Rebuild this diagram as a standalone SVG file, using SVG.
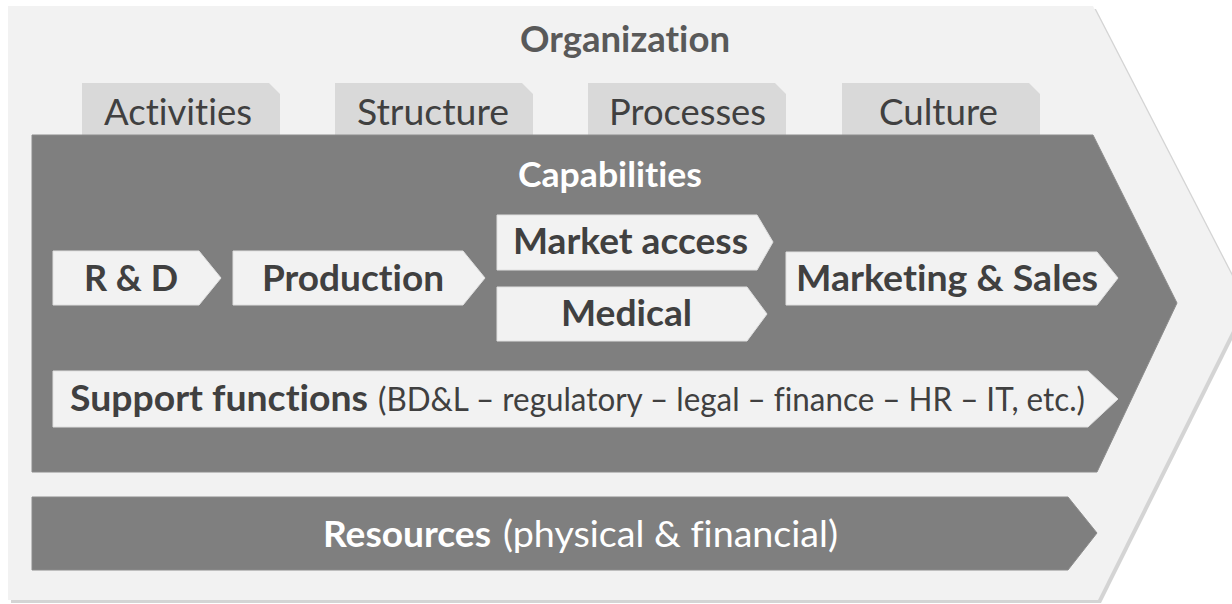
<svg xmlns="http://www.w3.org/2000/svg" width="1232" height="604" viewBox="0 0 1232 604">
<defs>
<style>
.bg{fill:#ffffff}
.outer{fill:#f2f2f2}
.shadow{fill:#d4d4d4}
.tab{fill:#d9d9d9}
.dark{fill:#7f7f7f;stroke:#8c8c8c;stroke-width:1}
.chev{fill:#f2f2f2;stroke:#e0e0e0;stroke-width:1}
text{font-family:Lato,"Open Sans","Liberation Sans",sans-serif;font-variant-ligatures:none;font-feature-settings:"liga" 0}
.b{font-weight:bold}
.dk{fill:#404040}
.org{fill:#595959}
.wh{fill:#ffffff}
.t36{font-size:36px}
.t34{font-size:34px}
.t32{font-size:32px}
</style>
</defs>
<rect class="bg" x="0" y="0" width="1232" height="604"/>

<g id="organization">
<path class="shadow" d="M11,9 H1096 L1249,306 L1101,603 H11 Z"/>
<path class="outer" d="M8,6 H1093 L1246,303 L1098,600 H8 Z"/>
<text class="b org t36" x="520" y="52" textLength="210" lengthAdjust="spacingAndGlyphs">Organization</text>
</g>

<g id="tab-activities">
<path class="tab" d="M82,83 H269 L280,94 V140 H82 Z"/>
<text class="dk t36" x="104" y="125" textLength="148" lengthAdjust="spacingAndGlyphs">Activities</text>
</g>
<g id="tab-structure">
<path class="tab" d="M335,83 H522 L533,94 V140 H335 Z"/>
<text class="dk t36" x="357" y="125" textLength="152" lengthAdjust="spacingAndGlyphs">Structure</text>
</g>
<g id="tab-processes">
<path class="tab" d="M588,83 H775 L786,94 V140 H588 Z"/>
<text class="dk t36" x="609" y="125" textLength="157" lengthAdjust="spacingAndGlyphs">Processes</text>
</g>
<g id="tab-culture">
<path class="tab" d="M842,83 H1029 L1040,94 V140 H842 Z"/>
<text class="dk t36" x="879" y="125" textLength="119" lengthAdjust="spacingAndGlyphs">Culture</text>
</g>

<g id="capabilities">
<path class="dark" d="M32,135 H1093 L1177,303 L1097,472 H32 Z"/>
<text class="b wh t34" x="518" y="187" textLength="184" lengthAdjust="spacingAndGlyphs">Capabilities</text>
</g>

<g id="rd">
<path class="chev" d="M53,251 H199 L221,278 L199,305 H53 Z"/>
<text class="b dk t36" x="84" y="291" textLength="94" lengthAdjust="spacingAndGlyphs">R &amp; D</text>
</g>
<g id="production">
<path class="chev" d="M233,251 H463 L485,278 L463,305 H233 Z"/>
<text class="b dk t36" x="262" y="291" textLength="182" lengthAdjust="spacingAndGlyphs">Production</text>
</g>
<g id="market-access">
<path class="chev" d="M497,215 H757 L773,242 L757,270 H497 Z"/>
<text class="b dk t36" x="513" y="254" textLength="235" lengthAdjust="spacingAndGlyphs">Market access</text>
</g>
<g id="medical">
<path class="chev" d="M497,287 H747 L767,314 L747,341 H497 Z"/>
<text class="b dk t36" x="561" y="326" textLength="131" lengthAdjust="spacingAndGlyphs">Medical</text>
</g>
<g id="marketing-sales">
<path class="chev" d="M786,252 H1097 L1118,278 L1097,305 H786 Z"/>
<text class="b dk t36" x="796" y="291" textLength="302" lengthAdjust="spacingAndGlyphs">Marketing &amp; Sales</text>
</g>
<g id="support-functions">
<path class="chev" d="M53,371 H1088 L1118,399 L1088,427 H53 Z"/>
<text class="dk" y="411"><tspan class="b t36" x="70" textLength="298" lengthAdjust="spacingAndGlyphs">Support functions</tspan><tspan class="t32" x="378" textLength="707" lengthAdjust="spacingAndGlyphs">(BD&amp;L – regulatory – legal – finance – HR – IT, etc.)</tspan></text>
</g>

<g id="resources">
<path class="dark" d="M32,497 H1068 L1097,533 L1068,570 H32 Z"/>
<text class="wh" y="547"><tspan class="b t36" x="323" textLength="168" lengthAdjust="spacingAndGlyphs">Resources</tspan><tspan class="t36" x="503" textLength="335" lengthAdjust="spacingAndGlyphs">(physical &amp; financial)</tspan></text>
</g>
</svg>
